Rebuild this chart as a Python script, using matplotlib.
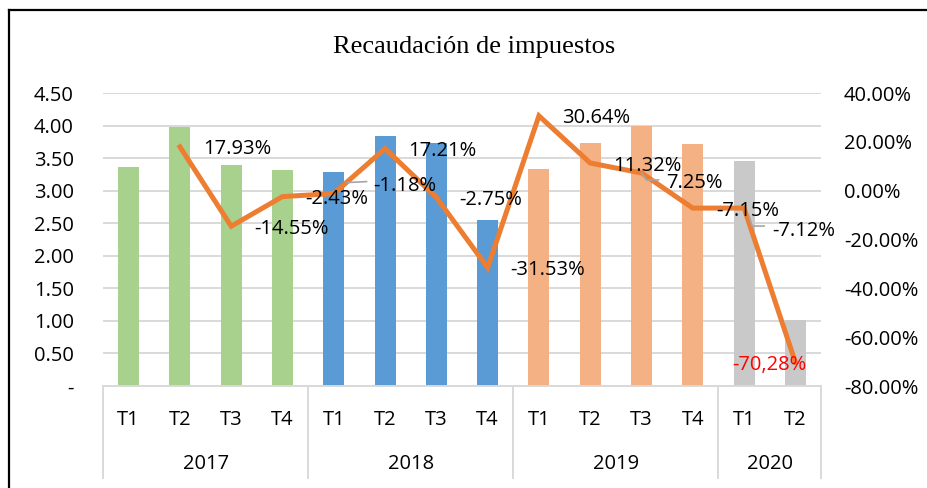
import matplotlib
matplotlib.use("Agg")
import matplotlib.pyplot as plt
import matplotlib.transforms as mtransforms
from matplotlib.lines import Line2D
import numpy as np

# data
quarters = ["T1", "T2", "T3", "T4", "T1", "T2", "T3", "T4",
            "T1", "T2", "T3", "T4", "T1", "T2"]
years = ["2017", "2018", "2019", "2020"]
year_sizes = [4, 4, 4, 2]
recaudacion = [3.37, 3.98, 3.40, 3.31, 3.28, 3.84, 3.73, 2.55,
               3.34, 3.73, 3.99, 3.71, 3.45, 1.02]
variacion = [None, 17.93, -14.55, -2.43, -1.18, 17.21, -2.75, -31.53,
             30.64, 11.32, 7.25, -7.15, -7.12, -70.28]
etiquetas = [None, "17.93%", "-14.55%", "-2.43%", "-1.18%", "17.21%", "-2.75%",
             "-31.53%", "30.64%", "11.32%", "7.25%", "-7.15%", "-7.12%", "-70,28%"]
year_colors = ["#a9d18e", "#5b9bd5", "#f4b183", "#c9c9c9"]

FONT = "Open Sans"
GRID = "#d9d9d9"

fig = plt.figure(figsize=(9.28, 4.88), dpi=100)
ax = fig.add_axes([103 / 928, 102 / 488, 718 / 928, 293 / 488])
ax2 = ax.twinx()

x = np.arange(len(quarters))
bar_colors = []
for c, n in zip(year_colors, year_sizes):
    bar_colors += [c] * n
ax.bar(x, recaudacion, width=0.41, color=bar_colors, zorder=2)

ax.set_xlim(-0.5, len(quarters) - 0.5)
ax.set_ylim(0, 4.5)
ax.set_yticks(np.arange(0, 4.51, 0.5))
ax.set_yticklabels(["-"] + [f"{v:.2f}" for v in np.arange(0.5, 4.51, 0.5)])
ax.yaxis.grid(True, color=GRID, lw=1.4, zorder=0)
ax.set_axisbelow(True)
for s in ["top", "left", "right"]:
    ax.spines[s].set_visible(False)
ax.spines["bottom"].set_color(GRID)
ax.spines["bottom"].set_linewidth(1.4)
ax.tick_params(axis="y", length=0, pad=21, labelsize=14.5)
for t in ax.get_yticklabels():
    t.set_fontfamily(FONT)

# x axis: quarters then years, with separators between years
ax.set_xticks(x)
ax.set_xticklabels(quarters, fontfamily=FONT, fontsize=14.5)
ax.tick_params(axis="x", length=0, pad=17)
trans = mtransforms.blended_transform_factory(ax.transData, ax.transAxes)
edges = np.concatenate([[0], np.cumsum(year_sizes)]) - 0.5
for e in edges:
    ax.plot([e, e], [0, -0.314], transform=trans, color=GRID, lw=1.4, clip_on=False)
for i, yr in enumerate(years):
    mid = (edges[i] + edges[i + 1]) / 2
    ax.text(mid, -0.265, yr, transform=trans, ha="center", va="center",
            fontfamily=FONT, fontsize=14.5)

# secondary axis: percent change
xs = [i for i, v in enumerate(variacion) if v is not None]
vs = [v for v in variacion if v is not None]
ax2.plot(xs, vs, color="#ed7d31", lw=3.6, solid_joinstyle="miter", zorder=3)
ax2.set_ylim(-80, 40)
ax2.set_yticks(np.arange(-80, 41, 20))
ax2.set_yticklabels([f"{v:.2f}%" for v in np.arange(-80, 41, 20)])
ax2.tick_params(axis="y", length=0, pad=16.5, labelsize=14.5)
for t in ax2.get_yticklabels():
    t.set_fontfamily(FONT)
for s in ax2.spines.values():
    s.set_visible(False)

# data labels, offsets in pixels from each point
offsets = {4: (39, -10), 10: (25, 8), 12: (28, 20), 13: (-63, 0)}
for i, (v, lab) in enumerate(zip(variacion, etiquetas)):
    if v is None:
        continue
    dx, dy = offsets.get(i, (23, 0))
    color = "red" if i == 13 else "black"
    ax2.annotate(lab, (i, v), xytext=(dx, -dy), textcoords="offset pixels",
                 ha="left", va="center_baseline", fontfamily=FONT, fontsize=14.5,
                 color=color, zorder=4)

# small grey leader lines next to some labels
fig.canvas.draw()
leaders = [(3, [(64, 14), (84, 15)]),
           (10, [(0, 0), (5, -7), (17, -7)]),
           (12, [(5, -8), (8, -18), (20, -18)])]
for i, pts in leaders:
    bx, by = ax2.transData.transform((i, variacion[i]))
    ax2.add_line(Line2D([bx + p[0] for p in pts], [by + p[1] for p in pts],
                        transform=None, color="#a6a6a6", lw=1.2, zorder=4))

fig.text(474 / 928, 1 - 47 / 488, "Recaudación de impuestos", ha="center",
         va="center", fontfamily="Liberation Serif", fontsize=19)

# outer frame (top and left edges visible)
fig.add_artist(Line2D([9 / 928, 9 / 928], [0, 1 - 10 / 488], color="black", lw=1.6))
fig.add_artist(Line2D([9 / 928, 1], [1 - 10 / 488, 1 - 10 / 488], color="black", lw=1.6))

fig.savefig("out.png", dpi=100)
